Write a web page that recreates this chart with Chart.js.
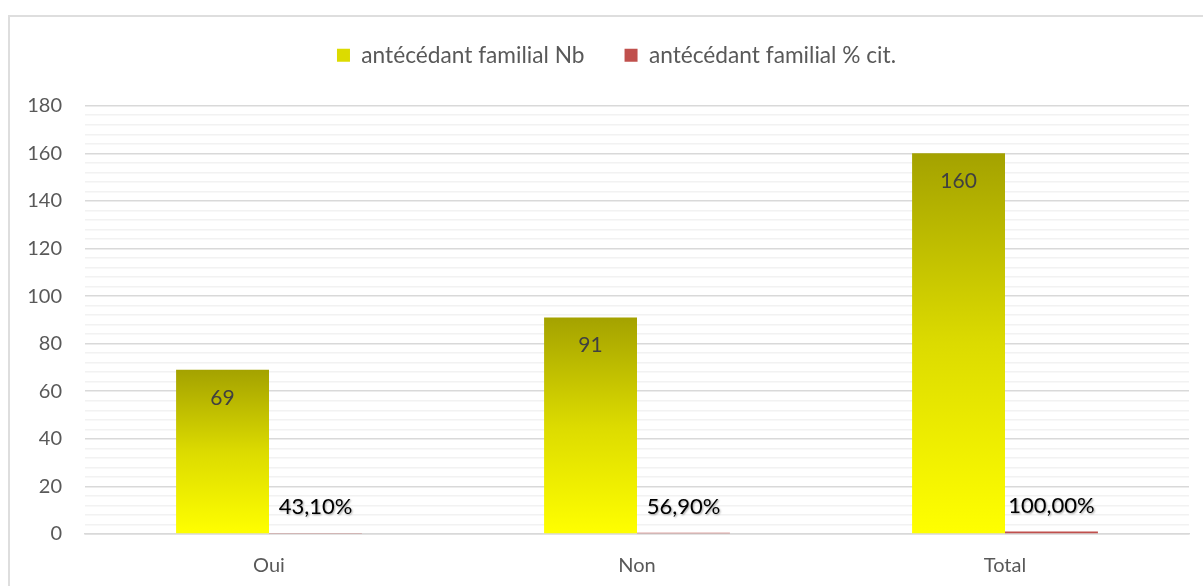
<!DOCTYPE html>
<html>
<head>
<meta charset="utf-8">
<script src="https://cdn.jsdelivr.net/npm/chart.js@4"></script>
<style>
  html, body { margin: 0; padding: 0; background: #fff; overflow: hidden; }
  #frame {
    position: absolute; left: 8px; top: 15px;
    width: 1200px; height: 580px;
    border: 2px solid #DEDEDE;
  }
  #frame canvas { display: block; }
</style>
</head>
<body>
<div id="frame"><canvas id="chart" width="1198" height="578"></canvas></div>
<script>
const categories = ["Oui", "Non", "Total"];
const nbValues = [69, 91, 160];
const pctValues = [0.431, 0.569, 1.0];
const seriesNames = ["antécédant familial Nb", "antécédant familial % cit."];

const FONT = "Lato, 'Open Sans', sans-serif";

// yellow -> olive gradient, computed per bar from the y scale
function barGradient(ctx) {
  const chart = ctx.chart;
  const y = chart.scales.y;
  if (!chart.chartArea || !y || ctx.type !== "data") return "#DCDB00";
  const top = y.getPixelForValue(ctx.raw);
  const bottom = y.getPixelForValue(0);
  const g = chart.ctx.createLinearGradient(0, top, 0, bottom);
  g.addColorStop(0, "#A4A200");
  g.addColorStop(0.5, "#DCDB00");
  g.addColorStop(1, "#FFFF00");
  return g;
}

// extra room under the legend, and nudge it to the right like the original
const legendSpacer = {
  id: "legendSpacer",
  beforeInit(chart) {
    const lg = chart.legend;
    const fit = lg.fit;
    lg.fit = function () {
      fit.call(this);
      this.height += 29;
    };
    const draw = lg.draw;
    lg.draw = function () {
      this.ctx.save();
      this.ctx.translate(17, 0);
      draw.call(this);
      this.ctx.restore();
    };
  }
};

// labels: counts inside top of the bar, percentages above the red bar
const valueLabels = {
  id: "valueLabels",
  afterDatasetsDraw(chart) {
    const c = chart.ctx;
    c.save();
    c.textAlign = "center";
    c.textBaseline = "middle";
    c.font = "21px " + FONT;
    chart.getDatasetMeta(0).data.forEach((bar, i) => {
      c.fillStyle = "#404040";
      c.fillText(String(nbValues[i]), bar.x, bar.y + 28);
    });
    c.font = "22px " + FONT;
    chart.getDatasetMeta(1).data.forEach((bar, i) => {
      c.shadowColor = "rgba(0,0,0,0.35)";
      c.shadowOffsetX = 1;
      c.shadowOffsetY = 1;
      c.shadowBlur = 2;
      c.fillStyle = "#000";
      const txt = (pctValues[i] * 100).toFixed(2).replace(".", ",") + "%";
      c.fillText(txt, bar.x, bar.y - 26);
    });
    c.restore();
  }
};

new Chart(document.getElementById("chart"), {
  type: "bar",
  plugins: [legendSpacer, valueLabels],
  data: {
    labels: categories,
    datasets: [
      {
        label: seriesNames[0],
        data: nbValues,
        backgroundColor: barGradient,
        categoryPercentage: 0.505,
        barPercentage: 1.0,
      },
      {
        label: seriesNames[1],
        data: pctValues,
        backgroundColor: "#C0504D",
        categoryPercentage: 0.505,
        barPercentage: 1.0,
      },
    ],
  },
  options: {
    responsive: false,
    animation: false,
    layout: { padding: { top: -13, right: 19, left: 0, bottom: 0 } },
    plugins: {
      legend: {
        display: true,
        position: "top",
        labels: {
          boxWidth: 13,
          boxHeight: 13,
          padding: 40,
          color: "#595959",
          font: { family: FONT, size: 22.7 },
          generateLabels(chart) {
            return seriesNames.map((name, i) => ({
              text: name,
              fillStyle: i === 0 ? "#DCDB00" : "#C0504D",
              strokeStyle: "transparent",
              lineWidth: 0,
              datasetIndex: i,
              fontColor: "#595959",
            }));
          },
        },
      },
      tooltip: { enabled: false },
    },
    scales: {
      x: {
        grid: { display: false, drawTicks: false },
        border: { color: "#D9D9D9", width: 1.5 },
        ticks: { color: "#595959", font: { family: FONT, size: 20 }, padding: 20 },
        afterFit(scale) { scale.height = 61; },
      },
      y: {
        min: 0,
        max: 180,
        border: { display: false },
        grid: {
          drawTicks: false,
          lineWidth: 1.5,
          color: (ctx) => (ctx.tick && ctx.tick.value % 20 === 0 ? "#D9D9D9" : "#F2F2F2"),
        },
        ticks: {
          stepSize: 4,
          autoSkip: false,
          color: "#595959",
          font: { family: FONT, size: 20 },
          padding: 23,
          callback: (v) => (v % 20 === 0 ? String(v) : ""),
        },
        afterFit(scale) { scale.width = 75; },
      },
    },
  },
});
</script>
</body>
</html>
